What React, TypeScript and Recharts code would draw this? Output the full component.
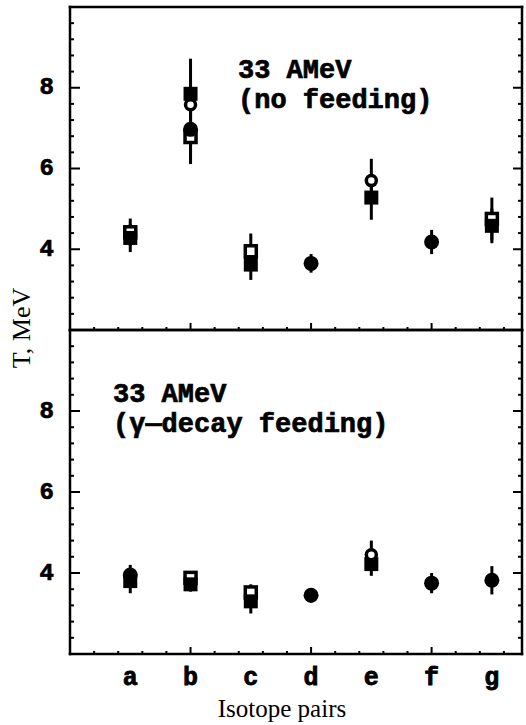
import React from 'react';
import { ScatterChart, Scatter, XAxis, YAxis, ErrorBar } from 'recharts';

// ---------- data ----------
const categories = ['a', 'b', 'c', 'd', 'e', 'f', 'g'];
const categoryPositions = [1, 2, 3, 4, 5, 6, 7];
const yTicks = [2, 2.4, 2.8, 3.2, 3.6, 4, 4.4, 4.8, 5.2, 5.6, 6, 6.4, 6.8, 7.2, 7.6, 8, 8.4, 8.8, 9.2, 9.6, 10];
const yLabelTicks = [4, 6, 8];
const xTicks = [0.4, 0.8, 1.2, 1.6, 2, 2.4, 2.8, 3.2, 3.6, 4, 4.4, 4.8, 5.2, 5.6, 6, 6.4, 6.8, 7.2];
const xMajorTicks = [2, 4, 6];

// top panel: 33 AMeV (no feeding)
const topFilledSquare = [4.28, 7.85, 3.62, null, 5.28, null, 4.58];
const topFilledSquareErr = [0.35, 0.87, 0.38, null, 0.55, null, 0.43];
const topOpenSquare = [4.42, 6.78, 3.95, null, null, null, 4.75];
const topOpenSquareErr = [0.34, 0.6, 0.44, null, null, null, 0.53];
const topFilledCircle = [null, 6.97, null, 3.65, null, 4.18, null];
const topFilledCircleErr = [null, 0.86, null, 0.23, null, 0.3, null];
const topOpenCircle = [null, 7.58, null, null, 5.7, null, null];
const topOpenCircleErr = [null, 0.6, null, null, 0.54, null, null];

// bottom panel: 33 AMeV (gamma-decay feeding)
const botFilledSquare = [3.8, 3.72, 3.3, null, 4.22, null, null];
const botFilledSquareErr = [0.3, 0.18, 0.3, null, 0.29, null, null];
const botOpenSquare = [null, 3.88, 3.52, null, null, null, null];
const botOpenSquareErr = [null, 0.15, 0.2, null, null, null, null];
const botFilledCircle = [3.95, null, null, 3.45, null, 3.75, 3.82];
const botFilledCircleErr = [0.25, null, null, 0.18, null, 0.25, 0.35];
const botOpenCircle = [null, null, null, null, 4.45, null, null];
const botOpenCircleErr = [null, null, null, null, 0.35, null, null];

// ---------- helpers ----------
const MONO = '"Liberation Mono", "DejaVu Sans Mono", monospace';
const SERIF = '"Liberation Serif", "Times New Roman", serif';

const build = (vals: (number | null)[], errs: (number | null)[]) =>
  categoryPositions
    .map((x, i) => ({ x, y: vals[i], err: errs[i] }))
    .filter((d) => d.y != null);

const near = (a: number, b: number) => Math.abs(a - b) < 1e-6;
const isYMajor = (v: number) => near(v / 2, Math.round(v / 2));
const isXMajor = (v: number) => xMajorTicks.some((m) => near(m, v));
const bottomTicksWithCats = [...xTicks, ...categoryPositions.filter((c) => !xTicks.some((t) => near(t, c)))].sort(
  (a, b) => a - b
);

const FilledSquare = (p: any) => <rect x={p.cx - 7} y={p.cy - 7} width={14} height={14} fill="#000" />;
const OpenSquare = (p: any) => (
  <rect x={p.cx - 5.5} y={p.cy - 5.5} width={11} height={11} fill="#fff" stroke="#000" strokeWidth={3.5} />
);
const FilledCircle = (p: any) => <circle cx={p.cx} cy={p.cy} r={7.5} fill="#000" />;
const OpenCircle = (p: any) => <circle cx={p.cx} cy={p.cy} r={5} fill="#fff" stroke="#000" strokeWidth={3.5} />;

const LeftTick = (props: any) => {
  const { x, y, payload } = props;
  const v = payload.value;
  const len = isYMajor(v) ? 10 : 4;
  return (
    <g>
      <line x1={x} x2={x + len} y1={y} y2={y} stroke="#000" strokeWidth={2} />
      {yLabelTicks.includes(v) && (
        <text
          x={x - 16}
          y={y}
          textAnchor="end"
          dominantBaseline="central"
          fontFamily={MONO}
          fontWeight={700}
          fontSize={24}
          fill="#000"
          stroke="#000"
          strokeWidth={0.7}
        >
          {v}
        </text>
      )}
    </g>
  );
};

const RightTick = (props: any) => {
  const { x, y, payload } = props;
  const len = isYMajor(payload.value) ? 9 : 4;
  return <line x1={x} x2={x - len} y1={y} y2={y} stroke="#000" strokeWidth={2} />;
};

const TopTick = (props: any) => {
  const { x, y, payload } = props;
  const len = isXMajor(payload.value) ? 8 : 3;
  return <line x1={x} x2={x} y1={y} y2={y + len} stroke="#000" strokeWidth={2} />;
};

const makeBottomTick = (showCategories: boolean) => (props: any) => {
  const { x, y, payload } = props;
  const v = payload.value;
  const isTick = xTicks.some((t) => near(t, v));
  const catIdx = categoryPositions.findIndex((c) => near(c, v));
  const len = isXMajor(v) ? 7 : 3;
  return (
    <g>
      {isTick && <line x1={x} x2={x} y1={y} y2={y - len} stroke="#000" strokeWidth={2} />}
      {showCategories && catIdx >= 0 && (
        <text
          x={x}
          y={y + 31}
          textAnchor="middle"
          fontFamily={MONO}
          fontWeight={700}
          fontSize={25}
          fill="#000"
          stroke="#000"
          strokeWidth={0.8}
        >
          {categories[catIdx]}
        </text>
      )}
    </g>
  );
};

const axisLineStyle = { stroke: '#000', strokeWidth: 2.5, strokeLinecap: 'square' as const };

type SeriesDef = { data: any[]; shape: any };

function Panel({
  top,
  height,
  marginTop,
  marginBottom,
  series,
  showCategories,
}: {
  top: number;
  height: number;
  marginTop: number;
  marginBottom: number;
  series: SeriesDef[];
  showCategories: boolean;
}) {
  const BottomTick = makeBottomTick(showCategories);
  return (
    <div style={{ position: 'absolute', left: 0, top }}>
      <ScatterChart
        width={526}
        height={height}
        margin={{ top: marginTop, right: 3, bottom: marginBottom, left: 69 }}
      >
        <XAxis
          xAxisId="b"
          type="number"
          dataKey="x"
          domain={[0, 7.5]}
          allowDataOverflow
          ticks={showCategories ? bottomTicksWithCats : xTicks}
          interval={0}
          orientation="bottom"
          height={1}
          tickSize={0}
          tickMargin={0}
          tickLine={false}
          tick={<BottomTick />}
          axisLine={axisLineStyle}
        />
        <XAxis
          xAxisId="t"
          type="number"
          domain={[0, 7.5]}
          allowDataOverflow
          ticks={xTicks}
          interval={0}
          orientation="top"
          height={1}
          tickSize={0}
          tickMargin={0}
          tickLine={false}
          tick={<TopTick />}
          axisLine={axisLineStyle}
        />
        <YAxis
          yAxisId="l"
          type="number"
          dataKey="y"
          domain={[2, 10]}
          allowDataOverflow
          ticks={yTicks}
          interval={0}
          orientation="left"
          width={1}
          tickSize={0}
          tickMargin={0}
          tickLine={false}
          tick={<LeftTick />}
          axisLine={axisLineStyle}
        />
        <YAxis
          yAxisId="r"
          type="number"
          domain={[2, 10]}
          allowDataOverflow
          ticks={yTicks}
          interval={0}
          orientation="right"
          width={1}
          tickSize={0}
          tickMargin={0}
          tickLine={false}
          tick={<RightTick />}
          axisLine={axisLineStyle}
        />
        {series.map((s, i) => (
          <Scatter
            key={i}
            xAxisId="b"
            yAxisId="l"
            data={s.data}
            dataKey="y"
            shape={s.shape}
            isAnimationActive={false}
          >
            <ErrorBar dataKey="err" direction="y" width={0} stroke="#000" strokeWidth={3} />
          </Scatter>
        ))}
      </ScatterChart>
    </div>
  );
}

const topSeries: SeriesDef[] = [
  { data: build(topOpenSquare, topOpenSquareErr), shape: OpenSquare },
  { data: build(topOpenCircle, topOpenCircleErr), shape: OpenCircle },
  { data: build(topFilledSquare, topFilledSquareErr), shape: FilledSquare },
  { data: build(topFilledCircle, topFilledCircleErr), shape: FilledCircle },
];

const bottomSeries: SeriesDef[] = [
  { data: build(botOpenSquare, botOpenSquareErr), shape: OpenSquare },
  { data: build(botFilledSquare, botFilledSquareErr), shape: FilledSquare },
  { data: build(botFilledCircle, botFilledCircleErr), shape: FilledCircle },
  { data: build(botOpenCircle, botOpenCircleErr), shape: OpenCircle },
];

const annoStyle = {
  fontFamily: MONO,
  fontWeight: 700,
  fontSize: 27,
  fill: '#000',
  stroke: '#000',
  strokeWidth: 0.7,
};

export default function App() {
  return (
    <div style={{ position: 'absolute', left: 0, top: 0, width: 526, height: 725, background: '#fff' }}>
      <Panel top={0} height={340} marginTop={6} marginBottom={9} series={topSeries} showCategories={false} />
      <Panel top={320} height={405} marginTop={9} marginBottom={70} series={bottomSeries} showCategories={true} />
      <svg
        width={526}
        height={725}
        style={{ position: 'absolute', left: 0, top: 0, pointerEvents: 'none' }}
      >
        <text x={238} y={78} {...annoStyle}>33 AMeV</text>
        <text x={238} y={108} {...annoStyle}>(no feeding)</text>
        <text x={113} y={402} {...annoStyle}>33 AMeV</text>
        <text x={113} y={432} {...annoStyle}>(γ—decay feeding)</text>
        <text
          transform="translate(30,328) rotate(-90)"
          textAnchor="middle"
          fontFamily={SERIF}
          fontSize={26}
          fill="#000"
        >
          T, MeV
        </text>
        <text x={282} y={717} textAnchor="middle" fontFamily={SERIF} fontSize={25} fill="#000">
          Isotope pairs
        </text>
      </svg>
    </div>
  );
}
